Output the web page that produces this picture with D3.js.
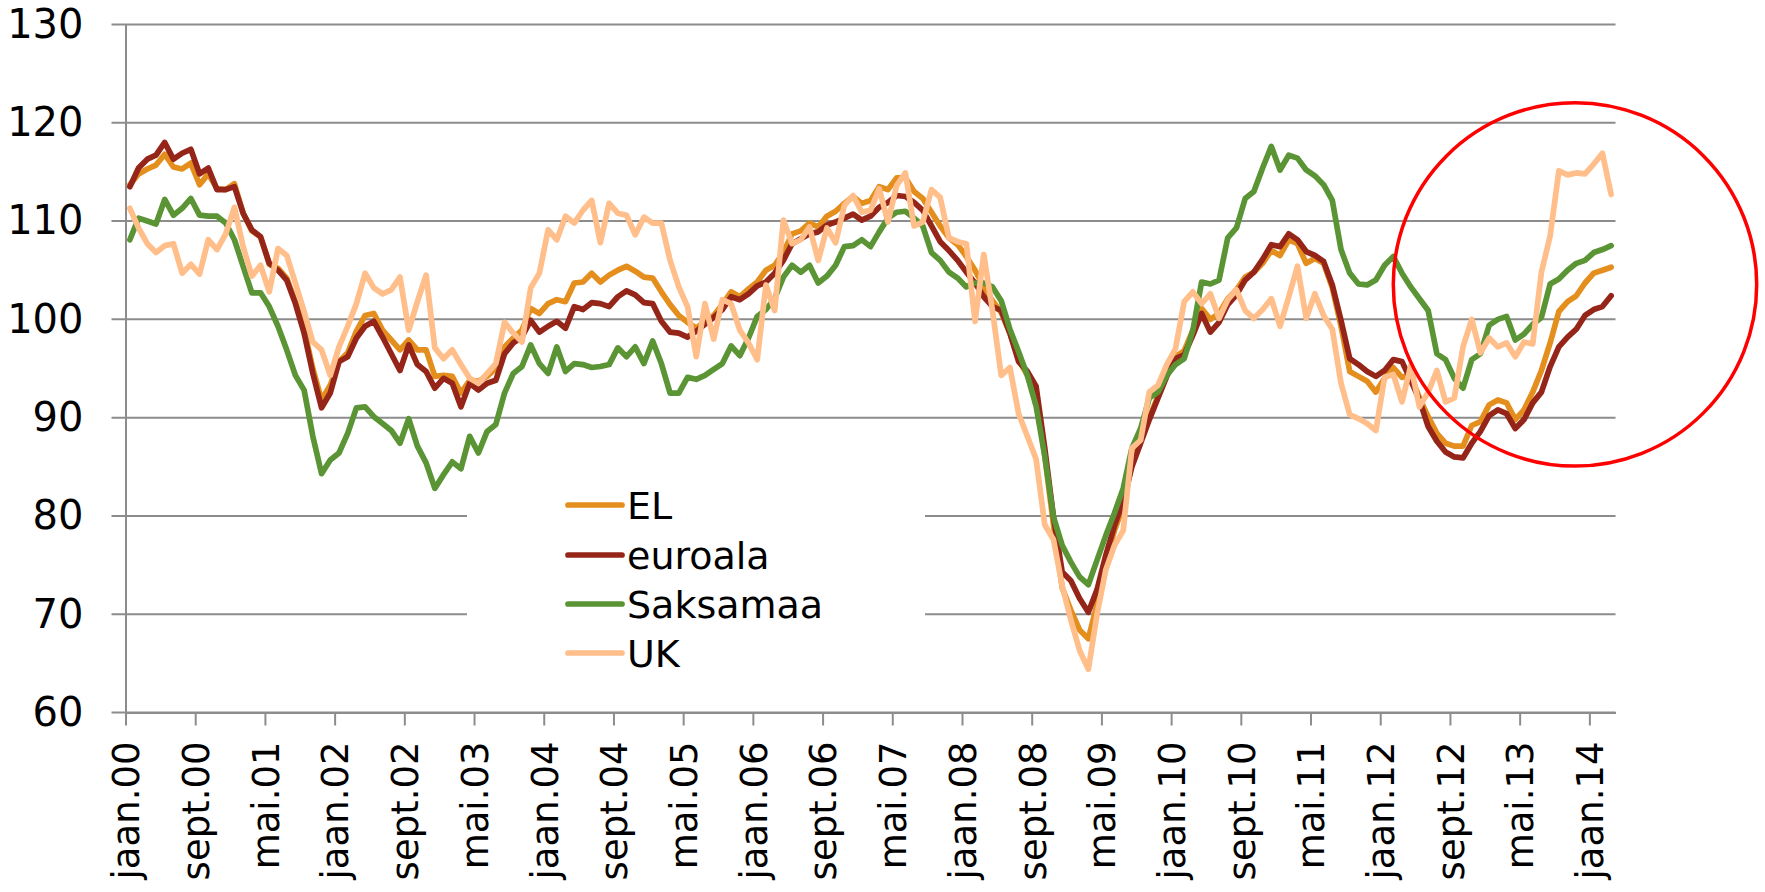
<!DOCTYPE html>
<html>
<head>
<meta charset="utf-8">
<script src="https://cdn.jsdelivr.net/npm/d3@7/dist/d3.min.js"></script>
<style>
  html, body { margin: 0; padding: 0; background: #fff; }
  svg { display: block; }
  text { font-family: "DejaVu Sans", sans-serif; fill: #000; }
</style>
</head>
<body>
<svg id="chart" width="1765" height="892"></svg>
<script>
// ---- data (monthly, Jan 2000 .. Mar 2014) ----
const seriesNames = ["EL", "euroala", "Saksamaa", "UK"];

const EL = [113.7,114.8,115.3,115.7,116.8,115.5,115.3,115.9,113.7,114.8,
113.3,113.2,113.8,110.8,109.0,108.4,105.6,105.2,104.2,101.8,
99.0,95.0,91.8,93.3,95.7,96.6,98.8,100.4,100.6,98.9,
97.9,96.9,97.9,96.9,96.9,94.2,94.3,94.2,92.5,93.8,
93.7,94.2,95.0,97.2,98.1,98.9,101.1,100.6,101.6,102.0,
101.8,103.7,103.8,104.7,103.8,104.5,105.0,105.4,104.9,104.3,
104.2,102.8,101.5,100.4,99.7,99.1,99.8,100.4,101.5,102.8,
102.3,103.1,103.8,105.0,105.5,106.8,108.7,109.0,109.8,109.4,
110.5,111.0,111.8,112.5,111.8,112.1,113.5,113.2,114.4,114.4,
113.0,112.3,110.9,109.5,108.3,107.6,106.4,105.0,103.3,101.9,
100.7,98.6,95.9,94.3,92.4,86.1,79.1,72.7,70.4,68.4,
67.5,71.0,75.5,78.5,81.0,85.3,87.6,90.0,92.2,94.3,
96.2,96.8,98.9,101.1,100.0,100.6,102.1,103.0,104.3,104.8,
105.7,107.0,106.5,108.1,107.7,105.7,106.2,105.7,103.2,99.3,
94.7,94.2,93.7,92.6,94.0,95.1,94.1,94.3,92.0,90.1,
88.4,87.4,87.1,87.1,89.2,89.6,91.3,91.8,91.5,89.8,
90.8,92.6,94.8,97.6,100.8,101.8,102.4,103.7,104.7,105.0,105.3];

const euroala = [113.5,115.4,116.3,116.7,118.0,116.3,116.9,117.3,114.8,115.4,
113.2,113.2,113.5,110.8,109.1,108.4,105.7,105.0,104.0,101.6,
98.6,94.5,91.0,92.5,95.7,96.2,98.1,99.3,99.8,98.2,
96.5,94.8,97.4,95.4,94.7,93.0,94.0,93.5,91.1,93.5,
92.8,93.5,93.8,96.5,97.6,98.2,99.9,98.7,99.3,99.8,
99.1,101.3,101.0,101.7,101.6,101.3,102.3,102.9,102.5,101.7,
101.6,99.8,98.7,98.6,98.2,98.8,99.5,100.2,101.0,102.3,
102.0,102.6,103.4,103.8,104.7,106.0,107.7,108.2,108.7,108.9,
109.6,109.9,110.3,110.7,110.1,110.5,111.4,111.9,112.6,112.5,
111.9,111.1,109.5,107.9,107.0,106.0,104.8,103.7,102.3,101.3,
100.9,98.6,95.7,94.7,93.2,86.9,79.9,74.3,73.4,71.6,
70.2,72.5,76.0,79.0,81.5,85.0,87.4,89.8,92.0,94.2,
96.0,96.4,98.4,100.6,98.7,99.7,101.5,102.5,104.0,104.8,
106.1,107.6,107.4,108.7,108.1,106.9,106.5,105.9,103.5,99.9,
96.0,95.4,94.7,94.2,94.8,95.9,95.7,93.8,91.8,89.1,
87.6,86.5,86.0,85.9,87.4,88.6,90.2,90.8,90.4,88.9,
89.8,91.5,92.6,95.2,97.2,98.2,99.0,100.4,101.0,101.3,102.4];

const Saksamaa = [108.1,110.3,110.0,109.7,112.2,110.6,111.3,112.3,110.6,110.5,
110.5,109.8,108.1,105.4,102.7,102.7,101.3,99.3,96.9,94.3,
92.8,88.1,84.3,85.7,86.4,88.4,91.0,91.1,90.1,89.4,
88.7,87.4,89.9,87.1,85.4,82.8,84.2,85.5,84.8,88.1,
86.4,88.6,89.3,92.5,94.5,95.2,97.4,95.5,94.5,97.2,
94.7,95.5,95.4,95.1,95.2,95.4,97.1,96.2,97.2,95.5,
97.8,95.5,92.5,92.5,94.1,93.9,94.3,94.9,95.5,97.3,
96.3,98.1,100.3,101.0,102.1,104.3,105.5,104.8,105.5,103.7,
104.4,105.5,107.4,107.5,108.1,107.4,108.9,110.3,110.9,111.0,
110.3,109.5,106.8,106.0,104.8,104.2,103.3,103.7,103.7,103.3,
101.9,99.0,96.7,94.3,91.2,86.1,79.9,77.0,75.3,73.8,
73.0,75.5,78.0,80.3,82.8,86.9,88.9,92.0,92.6,94.3,
95.4,96.0,98.9,103.8,103.6,104.0,108.3,109.3,112.3,113.0,
115.4,117.6,115.2,116.7,116.4,115.2,114.6,113.7,112.1,107.1,
104.7,103.6,103.5,104.0,105.5,106.4,104.7,103.3,102.1,100.9,
96.5,95.9,94.0,93.0,95.9,96.5,99.4,100.0,100.3,97.9,
98.5,99.5,100.2,103.6,104.1,105.0,105.7,106.0,106.8,107.1,107.5];

const UK = [111.3,109.3,107.7,106.8,107.5,107.7,104.7,105.6,104.6,108.1,
107.1,108.7,111.4,107.4,104.4,105.5,102.8,107.2,106.5,103.7,
100.8,97.7,96.9,94.3,97.2,99.3,101.6,104.7,103.2,102.6,
103.0,104.3,98.9,101.8,104.5,97.1,96.0,96.9,95.4,94.0,
93.5,94.5,95.5,99.7,98.6,97.7,103.2,104.7,109.1,108.1,
110.5,109.8,111.1,112.1,107.8,111.8,110.8,110.6,108.6,110.4,
109.8,109.8,106.0,103.3,101.3,96.2,101.6,98.0,102.0,101.6,
98.9,97.6,95.9,103.5,100.9,110.1,107.7,108.1,109.4,106.0,
109.3,107.8,111.6,112.6,110.9,111.1,113.3,109.9,113.6,114.9,
109.5,109.9,113.2,112.4,108.3,107.9,107.7,99.8,106.6,100.9,
94.3,95.1,90.4,88.1,85.8,79.1,77.6,72.9,69.4,66.3,
64.4,70.0,74.5,77.0,78.5,86.9,87.7,92.6,93.3,95.4,
97.0,101.8,102.8,101.6,102.6,100.1,102.0,103.0,100.9,100.1,
101.0,102.1,99.3,102.3,105.4,100.1,102.6,100.4,99.0,93.5,
90.3,89.9,89.4,88.7,94.1,94.4,91.6,95.3,91.1,92.6,
94.8,91.6,92.0,97.2,100.0,96.6,98.1,97.2,97.6,96.2,
97.7,97.5,104.8,108.5,115.1,114.7,114.9,114.8,115.8,116.9,112.7];

const tickLabels = ["jaan.00","sept.00","mai.01","jaan.02","sept.02","mai.03","jaan.04",
"sept.04","mai.05","jaan.06","sept.06","mai.07","jaan.08","sept.08","mai.09","jaan.10",
"sept.10","mai.11","jaan.12","sept.12","mai.13","jaan.14"];
const tickEvery = 8;          // months between labels
const yTicks = [60,70,80,90,100,110,120,130];

// ---- layout / style ----
const colors = {EL: "#E48E1E", euroala: "#962519", Saksamaa: "#5A9434", UK: "#FFBE8A"};
const seriesData = {EL, euroala, Saksamaa, UK};
const N = EL.length;
const pL = 125.5, pR = 1615.5, pT = 24.5, pB = 712.5;

const svg = d3.select("#chart");

const x = d3.scaleLinear().domain([0, N]).range([pL, pR]);
const y = d3.scaleLinear().domain([60, 130]).range([pB, pT]);

const gridColor = "#8C8C8C";

// gridlines (extend slightly left of the axis like outside tick marks)
svg.append("g").selectAll("line").data(yTicks).join("line")
  .attr("x1", pL - 14).attr("x2", pR)
  .attr("y1", d => y(d)).attr("y2", d => y(d))
  .attr("stroke", gridColor).attr("stroke-width", 2);

// legend background (hides gridlines behind it)
svg.append("rect").attr("x", 467).attr("y", 470).attr("width", 458).attr("height", 205)
  .attr("fill", "#fff");

// y axis
const yAxis = d3.axisLeft(y).tickValues(yTicks).tickSize(0).tickPadding(0).tickFormat(d3.format("d"));
const gy = svg.append("g").attr("transform", `translate(${pL},0)`).call(yAxis);
gy.select(".domain").attr("stroke", gridColor).attr("stroke-width", 2);
gy.selectAll("text")
  .attr("x", -42)
  .style("font-family", "'DejaVu Sans', sans-serif")
  .style("font-size", "40px")
  .attr("fill", "#000");

// x axis
const tickVals = tickLabels.map((_, i) => i * tickEvery);
const xAxis = d3.axisBottom(x).tickValues(tickVals).tickSize(13).tickSizeOuter(0)
  .tickFormat((d, i) => tickLabels[i]);
const gx = svg.append("g").attr("transform", `translate(0,${pB})`).call(xAxis);
gx.select(".domain").attr("stroke", gridColor).attr("stroke-width", 2);
gx.selectAll(".tick line").attr("stroke", gridColor).attr("stroke-width", 2);
gx.selectAll("text")
  .style("font-family", "'DejaVu Sans', sans-serif")
  .style("font-size", "37px")
  .attr("fill", "#000")
  .attr("text-anchor", "end")
  .attr("transform", "rotate(-90)")
  .attr("x", -29)
  .attr("y", 0)
  .attr("dy", "0.36em");

// lines
const line = d3.line()
  .x((d, i) => x(i + 0.5))
  .y(d => y(d));

svg.append("g").selectAll("path").data(seriesNames).join("path")
  .attr("d", k => line(seriesData[k]))
  .attr("fill", "none")
  .attr("stroke", k => colors[k])
  .attr("stroke-width", 5.7)
  .attr("stroke-linejoin", "round")
  .attr("stroke-linecap", "round");

// legend
const lg = svg.append("g");
const legendY = [505, 555, 604, 653];
seriesNames.forEach((k, i) => {
  lg.append("line").attr("x1", 568).attr("x2", 622)
    .attr("y1", legendY[i]).attr("y2", legendY[i])
    .attr("stroke", colors[k]).attr("stroke-width", 5.7).attr("stroke-linecap", "round");
  lg.append("text").attr("x", 627).attr("y", legendY[i]).attr("dy", "0.36em")
    .style("font-size", "38px").text(k);
});

// highlight circle
svg.append("circle").attr("cx", 1575).attr("cy", 284.4).attr("r", 181.7)
  .attr("fill", "none").attr("stroke", "#FF0000").attr("stroke-width", 3.5);
</script>
</body>
</html>
